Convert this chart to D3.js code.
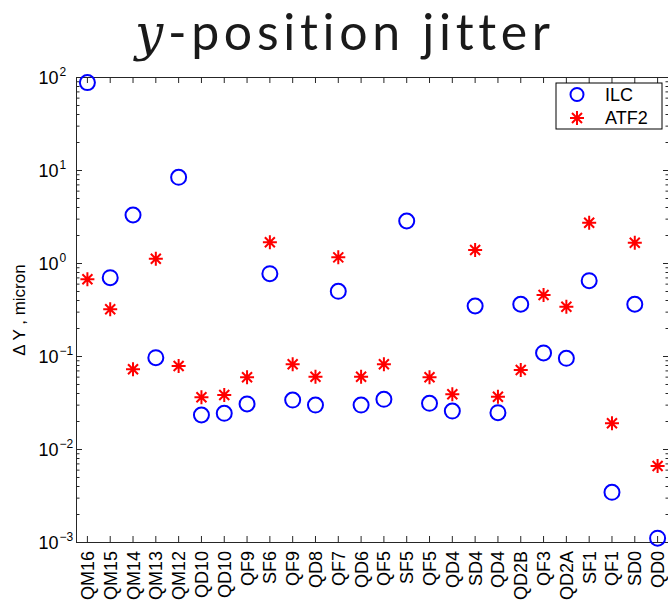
<!DOCTYPE html>
<html>
<head>
<meta charset="utf-8">
<script src="https://cdn.jsdelivr.net/npm/d3@7"></script>
<style>
  html, body { margin: 0; padding: 0; background: #fff; }
  svg { display: block; }
</style>
</head>
<body>
<svg id="chart" width="668" height="606"></svg>
<script>
// ---- data ----
const categories = ["QM16","QM15","QM14","QM13","QM12","QD10","QD10","QF9","SF6","QF9","QD8","QF7","QD6","QF5","SF5","QF5","QD4","SD4","QD4","QD2B","QF3","QD2A","SF1","QF1","SD0","QD0"];
const ilcValues  = [87, 0.695, 3.28, 0.096, 8.35, 0.0232, 0.0242, 0.0305, 0.767, 0.0336, 0.0297, 0.496, 0.0297, 0.0342, 2.83, 0.031, 0.0256, 0.345, 0.0246, 0.36, 0.108, 0.0945, 0.645, 0.00342, 0.36, 0.0011];
const atf2Values = [0.668, 0.318, 0.0719, 1.11, 0.078, 0.036, 0.0381, 0.059, 1.67, 0.0815, 0.0599, 1.15, 0.0599, 0.0815, null, 0.059, 0.0388, 1.38, 0.0365, 0.0707, 0.453, 0.339, 2.71, 0.0189, 1.65, 0.00656];
const yTickExponents = [-3, -2, -1, 0, 1, 2];
const seriesNames = ["ILC", "ATF2"];
const titleMath = "y";
const titleText = "-position jitter";
const yLabel = "\u0394 Y , micron";

(function () {
// ---- layout ----
const pLeft = 76, pRight = 669, pTop = 77, pBottom = 542;
const svg = d3.select("#chart");
const font = "'Liberation Sans', Arial, sans-serif";
const axisColor = "#262626";

const x = d3.scaleBand().domain(d3.range(categories.length)).range([pLeft, pRight]).padding(0);
const cx = i => x(i) + x.bandwidth() / 2;
const y = d3.scaleLog().domain([1e-3, 1e2]).range([pBottom, pTop]);

// title
const title = svg.append("text")
  .attr("x", 135).attr("y", 50)
  .attr("text-anchor", "start")
  .attr("textLength", 415)
  .attr("lengthAdjust", "spacing")
  .attr("font-family", "Lato, 'Open Sans', sans-serif")
  .attr("font-size", 50)
  .style("font-variant-ligatures", "none")
  .attr("fill", "#1a1a1a");
title.append("tspan").attr("font-family", "'DejaVu Serif', 'Liberation Serif', serif").attr("font-style", "italic").text(titleMath);
title.append("tspan").text(titleText);

// minor tick values
const minorTicks = [];
for (let e = -3; e < 2; e++) for (let m = 2; m <= 9; m++) minorTicks.push(m * Math.pow(10, e));
const majorTicks = yTickExponents.map(e => Math.pow(10, e));

function styleAxis(g) {
  g.selectAll("path, line").attr("stroke", axisColor).attr("stroke-width", 1);
}

// bottom axis
const xAxisB = svg.append("g").attr("transform", `translate(0,${pBottom})`)
  .call(d3.axisBottom(x).tickSizeInner(-6).tickSizeOuter(0).tickFormat(i => categories[i]));
xAxisB.call(styleAxis);
xAxisB.selectAll("text")
  .attr("transform", "rotate(-90)")
  .attr("text-anchor", "end")
  .attr("x", -9).attr("y", 0).attr("dy", "0.36em")
  .attr("font-family", font).attr("font-size", 18).attr("fill", "#000");

// top axis
const xAxisT = svg.append("g").attr("transform", `translate(0,${pTop})`)
  .call(d3.axisTop(x).tickSizeInner(-6).tickSizeOuter(0).tickFormat(""));
xAxisT.call(styleAxis);

// left axis major
const yAxisL = svg.append("g").attr("transform", `translate(${pLeft},0)`)
  .call(d3.axisLeft(y).tickValues(majorTicks).tickSizeInner(-6).tickSizeOuter(0).tickFormat(""));
yAxisL.call(styleAxis);
yAxisL.selectAll(".tick").each(function(d) {
  const t = d3.select(this);
  t.select("text").remove();
  const e = Math.round(Math.log10(d));
  t.append("text").attr("x", -17.5).attr("y", 6.5).attr("text-anchor", "end")
    .attr("font-family", font).attr("font-size", 18).attr("fill", "#000").text("10");
  t.append("text").attr("x", -16.5).attr("y", -2).attr("text-anchor", "start")
    .attr("font-family", font).attr("font-size", 12).attr("fill", "#000")
    .text(e < 0 ? "\u2212" + Math.abs(e) : String(e));
});
// left axis minor
const yAxisLm = svg.append("g").attr("transform", `translate(${pLeft},0)`)
  .call(d3.axisLeft(y).tickValues(minorTicks).tickSizeInner(-3.5).tickSizeOuter(0).tickFormat(""));
yAxisLm.call(styleAxis);
yAxisLm.select(".domain").remove();

// right axis
const yAxisR = svg.append("g").attr("transform", `translate(${pRight},0)`)
  .call(d3.axisRight(y).tickValues(majorTicks).tickSizeInner(-6).tickSizeOuter(0).tickFormat(""));
yAxisR.call(styleAxis);
const yAxisRm = svg.append("g").attr("transform", `translate(${pRight},0)`)
  .call(d3.axisRight(y).tickValues(minorTicks).tickSizeInner(-3.5).tickSizeOuter(0).tickFormat(""));
yAxisRm.call(styleAxis);
yAxisRm.select(".domain").remove();

// y label
svg.append("text")
  .attr("transform", `translate(25,310) rotate(-90)`)
  .attr("text-anchor", "middle")
  .attr("font-family", font).attr("font-size", 17).attr("fill", "#000")
  .text(yLabel);

// markers
function star(g, px, py) {
  const a = 7, d = 5;
  const path = `M${px - a},${py}L${px + a},${py}M${px},${py - a}L${px},${py + a}` +
    `M${px - d},${py - d}L${px + d},${py + d}M${px - d},${py + d}L${px + d},${py - d}`;
  g.append("path").attr("d", path).attr("stroke", "#ff0000").attr("stroke-width", 2).attr("fill", "none");
}

const pts = svg.append("g");
ilcValues.forEach((v, i) => {
  if (v == null) return;
  pts.append("circle").attr("cx", cx(i)).attr("cy", y(v)).attr("r", 7.5)
    .attr("fill", "none").attr("stroke", "#0000ff").attr("stroke-width", 2);
});
atf2Values.forEach((v, i) => {
  if (v == null) return;
  star(pts, cx(i), y(v));
});

// legend
const lg = svg.append("g");
lg.append("rect").attr("x", 556).attr("y", 83).attr("width", 106).attr("height", 46)
  .attr("fill", "#fff").attr("stroke", "#000").attr("stroke-width", 1);
lg.append("circle").attr("cx", 577).attr("cy", 94.5).attr("r", 6.5)
  .attr("fill", "none").attr("stroke", "#0000ff").attr("stroke-width", 2);
star(lg, 577, 118);
lg.append("text").attr("x", 605).attr("y", 94.5).attr("dy", "0.36em")
  .attr("font-family", font).attr("font-size", 18).attr("fill", "#000").text(seriesNames[0]);
lg.append("text").attr("x", 605).attr("y", 118).attr("dy", "0.36em")
  .attr("font-family", font).attr("font-size", 18).attr("fill", "#000").text(seriesNames[1]);
})();
</script>
</body>
</html>
